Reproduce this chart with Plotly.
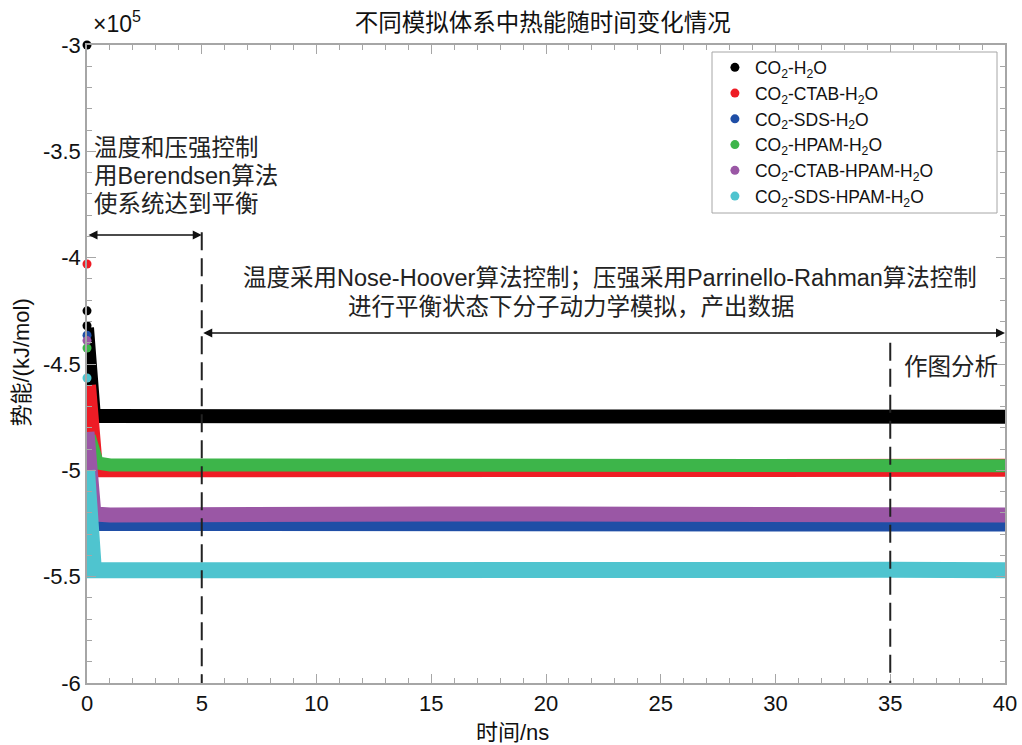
import plotly.graph_objects as go

# ---------------- data (time in ns, energy in 10^5 kJ/mol) ----------------
names = ["CO<sub>2</sub>-H<sub>2</sub>O",
         "CO<sub>2</sub>-CTAB-H<sub>2</sub>O",
         "CO<sub>2</sub>-SDS-H<sub>2</sub>O",
         "CO<sub>2</sub>-HPAM-H<sub>2</sub>O",
         "CO<sub>2</sub>-CTAB-HPAM-H<sub>2</sub>O",
         "CO<sub>2</sub>-SDS-HPAM-H<sub>2</sub>O"]
colors = ["#000000", "#ee1c25", "#1f4ea6", "#3db54a", "#9a57a5", "#4fc4cf"]

# isolated first frames
start_t_black = [0, 0.0, 0.0]
start_e_black = [-3.0, -4.25, -4.32]
start_t_red = [0]
start_e_red = [-4.03]
start_t_blue = [0]
start_e_blue = [-4.365]
start_t_green = [0]
start_e_green = [-4.425]
start_t_purple = [0]
start_e_purple = [-4.39]
start_t_cyan = [0]
start_e_cyan = [-4.566]

# relaxation + equilibrium band
t_black = [0.0, 0.1, 0.2, 0.3, 1, 5, 10, 15, 20, 25, 30, 35, 40]
e_black = [-4.33, -4.55, -4.71, -4.745, -4.745, -4.745, -4.742, -4.745, -4.745, -4.742, -4.745, -4.745, -4.748]
t_red = [0.0, 0.1, 0.2, 0.3, 1, 5, 10, 15, 20, 25, 30, 35, 40]
e_red = [-4.6, -4.8, -4.95, -4.99, -4.99, -4.988, -4.99, -4.99, -4.988, -4.99, -4.99, -4.99, -4.988]
t_blue = [0.0, 0.1, 0.2, 0.3, 1, 5, 10, 15, 20, 25, 30, 35, 40]
e_blue = [-4.85, -5.15, -5.24, -5.252, -5.252, -5.255, -5.252, -5.252, -5.25, -5.252, -5.252, -5.255, -5.255]
t_green = [0.1, 0.2, 0.3, 0.45, 1, 5, 10, 15, 20, 25, 30, 35, 40]
e_green = [-4.84, -4.89, -4.935, -4.965, -4.975, -4.975, -4.975, -4.975, -4.975, -4.975, -4.975, -4.975, -4.978]
t_purple = [0.0, 0.1, 0.2, 0.3, 1, 5, 10, 15, 20, 25, 30, 35, 40]
e_purple = [-4.82, -5.1, -5.19, -5.205, -5.21, -5.205, -5.205, -5.205, -5.205, -5.205, -5.205, -5.205, -5.21]
t_cyan = [0.0, 0.1, 0.2, 0.3, 1, 5, 10, 15, 20, 25, 30, 35, 40]
e_cyan = [-5.0, -5.3, -5.44, -5.47, -5.47, -5.468, -5.465, -5.468, -5.47, -5.468, -5.468, -5.468, -5.47]

x_ticks = [0, 5, 10, 15, 20, 25, 30, 35, 40]
y_ticks = [-6, -5.5, -5, -4.5, -4, -3.5, -3]
y_labels = ["-6", "-5.5", "-5", "-4.5", "-4", "-3.5", "-3"]

band_widths = [14, 18, 14, 13, 15, 16]

# ---------------- figure ----------------
FONT = "Liberation Sans, Arial, Noto Sans CJK SC"
TXT = 23.5

bands = [(t_black, e_black), (t_red, e_red), (t_blue, e_blue),
         (t_green, e_green), (t_purple, e_purple), (t_cyan, e_cyan)]
starts = [(start_t_black, start_e_black), (start_t_red, start_e_red),
          (start_t_blue, start_e_blue), (start_t_green, start_e_green),
          (start_t_purple, start_e_purple), (start_t_cyan, start_e_cyan)]

fig = go.Figure()
for (tt, ee), c, w in zip(bands, colors, band_widths):
    fig.add_trace(go.Scatter(x=tt, y=ee, mode="lines",
                             line=dict(color=c, width=w),
                             showlegend=False, hoverinfo="skip",
                             cliponaxis=False))
for (tt, ee), c, n in zip(starts, colors, names):
    fig.add_trace(go.Scatter(x=tt, y=ee, mode="markers", name=n,
                             marker=dict(color=c, size=9),
                             cliponaxis=False))

axis_common = dict(showline=True, linecolor="#a6a6a6", linewidth=1.5,
                   mirror="ticks", ticks="inside", ticklen=9,
                   tickcolor="#a6a6a6", tickwidth=1, showgrid=False,
                   zeroline=False, automargin=False,
                   tickfont=dict(family=FONT, size=22, color="#111"))

fig.update_xaxes(range=[0, 40], tickvals=x_ticks,
                 minor=dict(ticks="inside", ticklen=5, dtick=1, tickcolor="#a6a6a6"),
                 **axis_common)
fig.update_yaxes(range=[-6, -3], tickvals=y_ticks, ticktext=y_labels,
                 minor=dict(ticks="inside", ticklen=5, dtick=0.1, tickcolor="#a6a6a6"),
                 **axis_common)

# axis titles
fig.add_annotation(x=18.52, y=-0.078, xref="x", yref="paper", xanchor="center",
                   yanchor="middle", text="时间/ns", showarrow=False,
                   font=dict(family=FONT, size=22, color="#111"))
fig.add_annotation(x=-0.071, y=0.502, xref="paper", yref="paper", xanchor="center",
                   yanchor="middle", text="势能/(kJ/mol)", showarrow=False, textangle=-90,
                   font=dict(family=FONT, size=22, color="#111"))

# dashed vertical lines
fig.add_shape(type="line", xref="x", yref="y", x0=5, x1=5, y0=-3.88, y1=-6,
              line=dict(color="#222", width=2, dash="18px,8px"))
fig.add_shape(type="line", xref="x", yref="y", x0=35, x1=35, y0=-4.40, y1=-6,
              line=dict(color="#222", width=2, dash="18px,8px"))

# legend frame (wider than the auto legend box, as in the original)
fig.add_shape(type="rect", xref="paper", yref="paper",
              x0=(712 - 87) / 918, x1=(997 - 87) / 918,
              y0=(683 - 213) / 638, y1=(683 - 52) / 638,
              line=dict(color="#a6a6a6", width=1), fillcolor="white", layer="above")

# double-headed arrows
fig.add_annotation(x=5, y=-3.893, ax=0, ay=-3.893, xref="x", yref="y",
                   axref="x", ayref="y", showarrow=True, arrowhead=2,
                   arrowside="end+start", arrowsize=1.2, arrowwidth=1.5,
                   arrowcolor="#111", text="", standoff=0, startstandoff=0)
fig.add_annotation(x=40, y=-4.354, ax=5, ay=-4.354, xref="x", yref="y",
                   axref="x", ayref="y", showarrow=True, arrowhead=2,
                   arrowside="end+start", arrowsize=1.2, arrowwidth=1.5,
                   arrowcolor="#111", text="", standoff=0, startstandoff=0)

# text annotations
txt1 = ["温度和压强控制", "用Berendsen算法", "使系统达到平衡"]
txt1_y = [-3.485, -3.617, -3.749]
for s, yy in zip(txt1, txt1_y):
    fig.add_annotation(x=0.22, y=yy, xref="x", yref="y", xanchor="left", yanchor="middle",
                       text=s, showarrow=False, font=dict(family=FONT, size=TXT, color="#222"))
fig.add_annotation(x=22.79, y=-4.096, xref="x", yref="y", xanchor="center", yanchor="middle",
                   text="温度采用Nose-Hoover算法控制；压强采用Parrinello-Rahman算法控制",
                   showarrow=False, font=dict(family=FONT, size=TXT, color="#222"))
fig.add_annotation(x=21.09, y=-4.232, xref="x", yref="y", xanchor="center", yanchor="middle",
                   text="进行平衡状态下分子动力学模拟，产出数据",
                   showarrow=False, font=dict(family=FONT, size=TXT, color="#222"))
fig.add_annotation(x=35.5, y=-4.513, xref="x", yref="y", xanchor="left", yanchor="middle",
                   text="作图分析", showarrow=False,
                   font=dict(family=FONT, size=TXT, color="#222"))

# exponent label
fig.add_annotation(x=0.004, y=1.036, xref="paper", yref="paper", xanchor="left",
                   yanchor="middle", text="×10<sup>5</sup>", showarrow=False,
                   font=dict(family=FONT, size=23, color="#111"))

fig.update_layout(
    width=1022, height=745,
    margin=dict(l=87, r=17, t=45, b=62),
    paper_bgcolor="white", plot_bgcolor="white",
    title=dict(text="不同模拟体系中热能随时间变化情况", x=0.531, xanchor="center",
               y=0.97, yanchor="middle",
               font=dict(family=FONT, size=TXT, color="#111")),
    legend=dict(x=0.684, y=0.993, xanchor="left", yanchor="top",
                bgcolor="rgba(0,0,0,0)", borderwidth=0,
                font=dict(family=FONT, size=17.5, color="#111")),
    font=dict(family=FONT),
)

fig.write_html("out.html")
